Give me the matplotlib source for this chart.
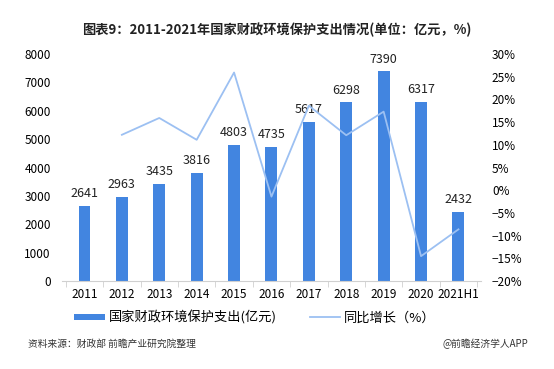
import matplotlib.pyplot as plt
import numpy as np

plt.rcParams['font.family'] = ['Noto Sans CJK SC', 'DejaVu Sans']

years = ['2011', '2012', '2013', '2014', '2015', '2016', '2017', '2018', '2019', '2020', '2021H1']
spend = [2641, 2963, 3435, 3816, 4803, 4735, 5617, 6298, 7390, 6317, 2432]
growth = [None, 12.2, 15.9, 11.1, 25.9, -1.4, 18.6, 12.1, 17.3, -14.5, -8.6]

bar_color = '#4285e0'
line_color = '#9cc0f2'

fig = plt.figure(figsize=(5.54, 3.69), dpi=100)
ax = fig.add_axes([0.112, 0.238, 0.756, 0.616])
x = np.arange(len(years))

ax.bar(x, spend, width=0.32, color=bar_color, label='国家财政环境保护支出(亿元)', zorder=2)
for xi, v in zip(x, spend):
    ax.text(xi, v + 200, str(v), ha='center', va='bottom', fontsize=9, color='#222222')

ax.set_ylim(0, 8000)
ax.set_yticks(range(0, 8001, 1000))
ax.set_xlim(-0.6, len(years) - 0.4)
ax.set_xticks(x)
ax.set_xticklabels(years)
ax.set_xticks(np.arange(-0.5, len(years), 1), minor=True)
ax.tick_params(axis='x', which='major', length=0, labelsize=8.5, pad=5)
ax.tick_params(axis='x', which='minor', length=4, color='#d0d0d0')
ax.tick_params(axis='y', length=0, labelsize=8.5, pad=8)
for s in ['top', 'right', 'left']:
    ax.spines[s].set_visible(False)
ax.spines['bottom'].set_color('#d0d0d0')

ax2 = ax.twinx()
gx = [xi for xi, g in zip(x, growth) if g is not None]
gy = [g for g in growth if g is not None]
ax2.plot(gx, gy, color=line_color, lw=1.3, label='同比增长（%）')
ax2.set_ylim(-20, 30)
ax2.set_yticks(range(-20, 31, 5))
ax2.set_yticklabels([f'{t}%'.replace('-', '−') for t in range(-20, 31, 5)])
ax2.tick_params(axis='y', length=0, labelsize=8.5, pad=8)
for s in ['top', 'right', 'left', 'bottom']:
    ax2.spines[s].set_visible(False)

h1, l1 = ax.get_legend_handles_labels()
h2, l2 = ax2.get_legend_handles_labels()
fig.legend(h1 + h2, l1 + l2, loc='center', bbox_to_anchor=(0.46, 0.14), ncol=2,
           frameon=False, fontsize=9.5, handlelength=2.3, handleheight=0.35,
           columnspacing=2.5, handletextpad=0.3)

fig.text(0.5, 0.92, '图表9：2011-2021年国家财政环境保护支出情况(单位：亿元，%)',
         ha='center', va='center', fontsize=9.5, fontweight='bold', color='#222222')
fig.text(0.05, 0.068, '资料来源：财政部 前瞻产业研究院整理', ha='left', va='center',
         fontsize=7, color='#333333')
fig.text(0.953, 0.068, '@前瞻经济学人APP', ha='right', va='center',
         fontsize=7, color='#333333')

fig.savefig('out.png', dpi=100)
